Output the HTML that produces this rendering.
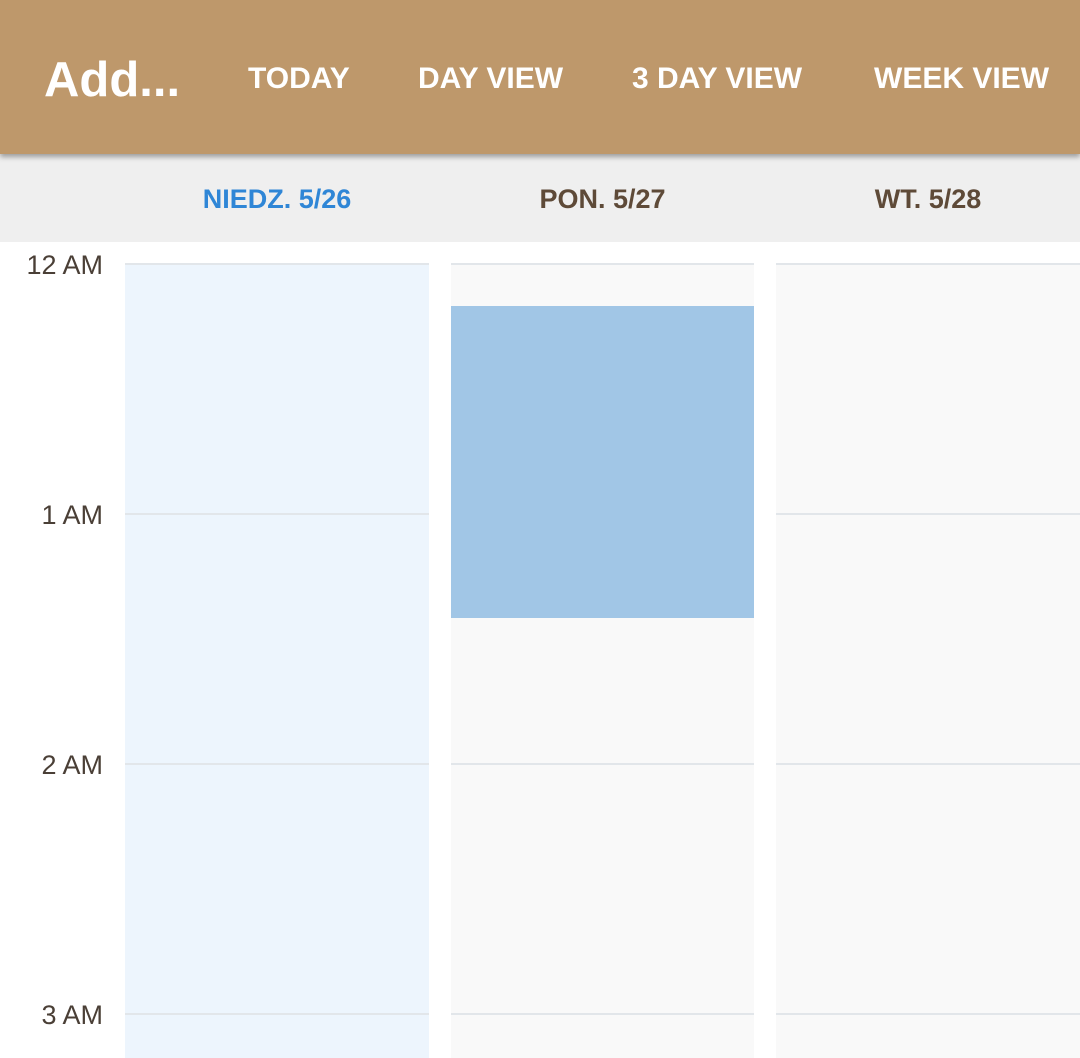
<!DOCTYPE html>
<html><head><meta charset="utf-8"><style>
body{margin:0;width:1080px;height:1058px;overflow:hidden;background:#fff;font-family:"Liberation Sans",sans-serif;position:relative}
.bar{position:absolute;left:0;top:0;width:1080px;height:154px;background:#BE986B;box-shadow:0 3px 5px rgba(0,0,0,0.35);z-index:2}
.bar span{position:absolute;color:#fff;font-weight:bold}
.nav{font-size:30px;top:62px}
.hdr{position:absolute;left:0;top:154px;width:1080px;height:88px;background:#EFEFEF}
.hdr span{position:absolute;top:30px;font-size:27px;font-weight:bold;color:#5E4A38;transform:translateX(-50%);white-space:nowrap}
.col{position:absolute;top:264px;height:794px}
.hl{position:absolute;height:2px;background:#E2E6EA}
.tl{position:absolute;left:0;width:103px;text-align:right;font-size:27px;color:#4a3f36}
</style></head><body>
<div class="bar">
<span style="left:44px;top:52px;font-size:49px">Add...</span>
<span class="nav" style="left:248px">TODAY</span>
<span class="nav" style="left:418px">DAY VIEW</span>
<span class="nav" style="left:632px">3 DAY VIEW</span>
<span class="nav" style="left:874px">WEEK VIEW</span>
</div>
<div class="hdr" id="hdr"></div>
<div id="grid"></div>
<script>
const days=["NIEDZ. 5/26","PON. 5/27","WT. 5/28"];
const hourLabels=["12 AM","1 AM","2 AM","3 AM"];
const eventDay=[1];
const eventStart=[0.168];
const eventEnd=[1.416];
const colLeft=[125,451,776],colW=[304,303,304],top0=264,hourPx=250;
const y=h=>top0+h*hourPx;
const hdr=document.getElementById('hdr'),grid=document.getElementById('grid');
days.forEach((d,i)=>{
 const s=document.createElement('span');
 
 
 s.textContent=d;s.style.left=(colLeft[i]+colW[i]/2)+'px';
 if(i===0)s.style.color='#2F86D6';
 hdr.appendChild(s);
 const c=document.createElement('div');
 
 
 c.className='col';c.style.left=colLeft[i]+'px';c.style.width=colW[i]+'px';
 c.style.background=i===0?'#EDF5FD':'#F9F9F9';
 grid.appendChild(c);
});
hourLabels.forEach((t,h)=>{
 const l=document.createElement('div');
 
 
 l.className='tl';l.textContent=t;l.style.top=(y(h)-14)+'px';
 grid.appendChild(l);
 colLeft.forEach((x,i)=>{
  const g=document.createElement('div');
  
  
  g.className='hl';g.style.left=x+'px';g.style.width=colW[i]+'px';g.style.top=(y(h)-1)+'px';
  grid.appendChild(g);
 });
});
eventDay.forEach((d,k)=>{
 const e=document.createElement('div');
 
 
 e.style.cssText='position:absolute;background:#A1C6E6;left:'+colLeft[d]+'px;width:'+colW[d]+'px;top:'+y(eventStart[k])+'px;height:'+(y(eventEnd[k])-y(eventStart[k]))+'px';
 grid.appendChild(e);
});
</script>
</body></html>
